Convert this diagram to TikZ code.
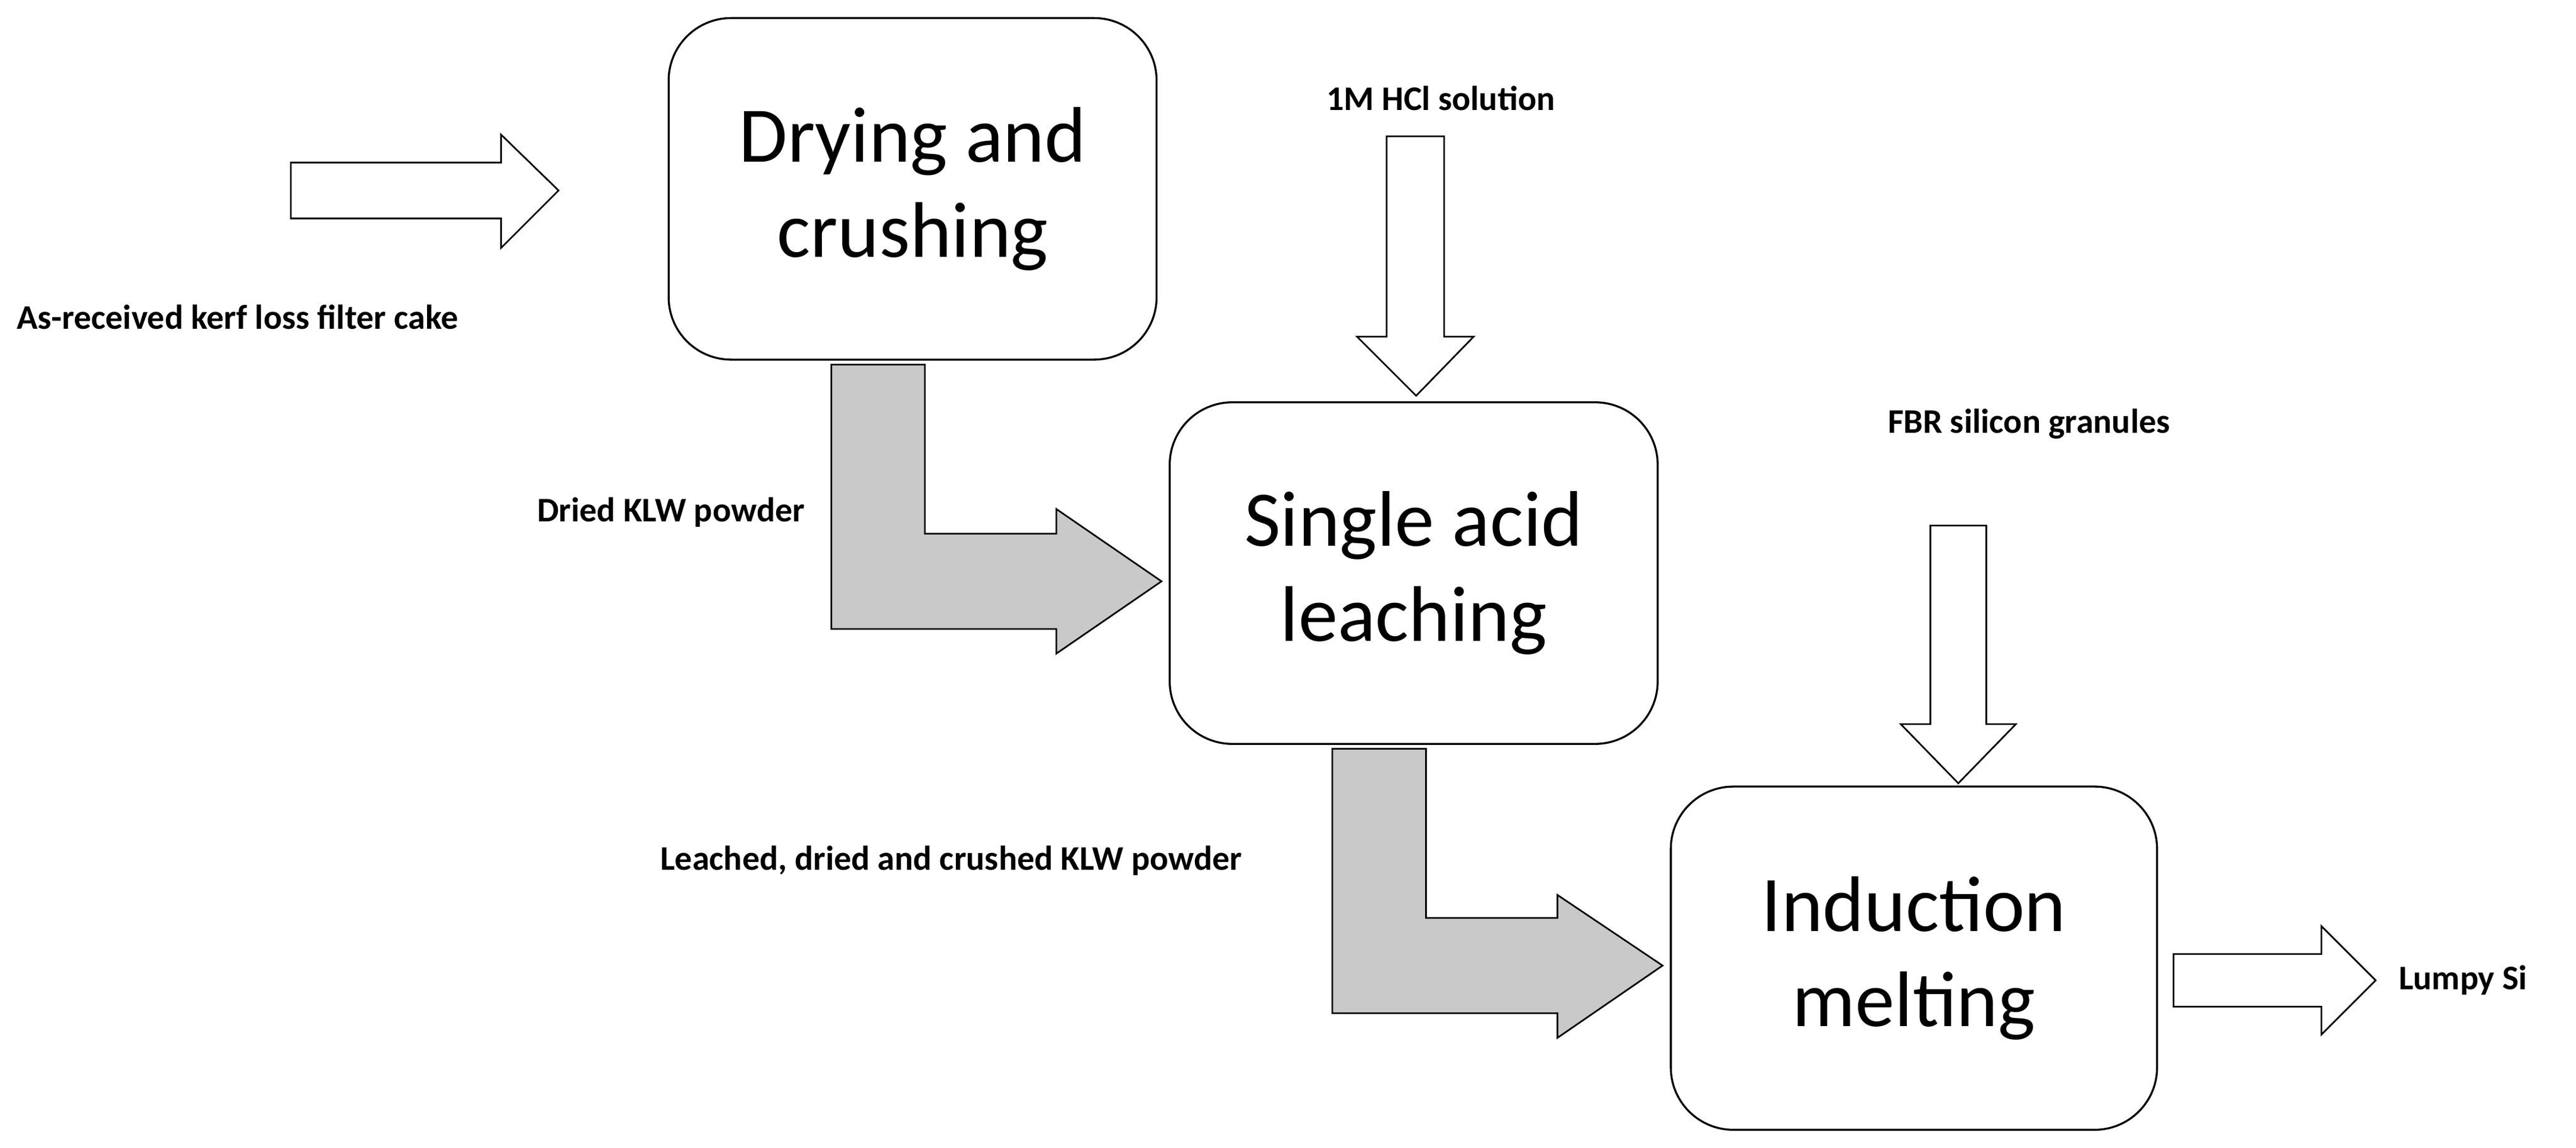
\documentclass[tikz,border=0pt]{standalone}
\usepackage{fontspec}
\setmainfont{Carlito}
\begin{document}
\begin{tikzpicture}[x=1pt,y=-1pt,
  box/.style={draw,line width=1.2pt,rounded corners=38pt,align=center,font=\fontsize{48}{58}\selectfont,inner sep=0pt},
  harrow/.style={draw,line width=1pt,fill=white},
  garrow/.style={draw,line width=1pt,fill=black!21},
  lab/.style={font=\fontsize{21}{25}\selectfont\bfseries,inner sep=0pt}]
\useasboundingbox (0,0) rectangle (1568,699);
\node[box,minimum width=297pt,minimum height=208pt] (b1) at (555.5,115) {Drying and\\crushing};
\node[box,minimum width=297pt,minimum height=208pt] (b2) at (860.5,349) {Single acid\\leaching};
\node[box,minimum width=296pt,minimum height=209pt] (b3) at (1165,583.5) {Induction\\melting};
% input arrow
\draw[harrow] (177,99) -- (305,99) -- (305,82) -- (340,116) -- (305,151) -- (305,133) -- (177,133) -- cycle;
\node[lab,anchor=west] (l1) at (10,193) {As-received kerf loss filter cake};
% HCl
\node[lab] (l2) at (877,60) {1M HCl solution};
\draw[harrow] (844,83) -- (879,83) -- (879,205) -- (897,205) -- (862,241) -- (826,205) -- (844,205) -- cycle;
% FBR
\node[lab] (l3) at (1235,258) {FBR silicon granules};
\draw[harrow] (1175,320) -- (1209,320) -- (1209,441) -- (1227,441) -- (1192,477) -- (1157,441) -- (1175,441) -- cycle;
% output
\draw[harrow] (1323,581) -- (1413,581) -- (1413,564) -- (1446,597) -- (1413,630) -- (1413,613) -- (1323,613) -- cycle;
\node[lab,anchor=west] (l4) at (1460,597) {Lumpy Si};
% gray arrows
\draw[garrow] (506,222) -- (563,222) -- (563,325) -- (643,325) -- (643,310) -- (707,354) -- (643,398) -- (643,383) -- (506,383) -- cycle;
\node[lab,anchor=east] (l5) at (490,312) {Dried KLW powder};
\draw[garrow] (811,456) -- (868,456) -- (868,559) -- (948,559) -- (948,545) -- (1012,588) -- (948,632) -- (948,617) -- (811,617) -- cycle;
\node[lab] (l6) at (579,524) {Leached, dried and crushed KLW powder};
\end{tikzpicture}
\end{document}
